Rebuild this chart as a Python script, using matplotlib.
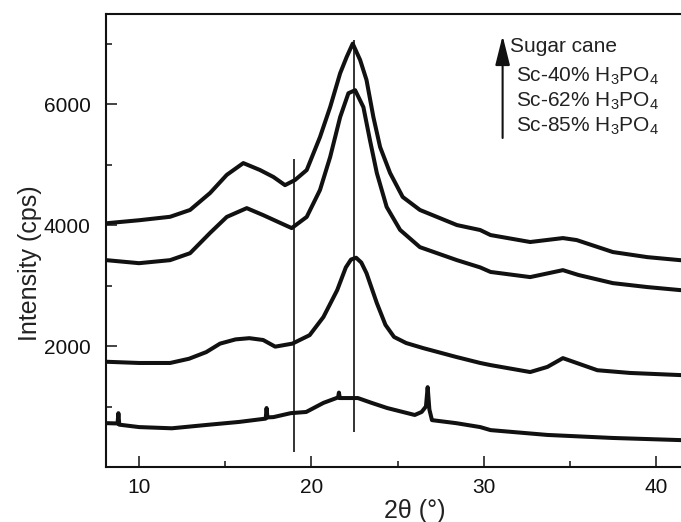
import matplotlib
matplotlib.use("Agg")
import matplotlib.pyplot as plt
from matplotlib.ticker import MultipleLocator, FixedLocator

plt.rcParams['font.family'] = ['Liberation Sans', 'DejaVu Sans']
plt.rcParams['mathtext.fontset'] = 'custom'
plt.rcParams['mathtext.rm'] = 'Liberation Sans'
plt.rcParams['mathtext.it'] = 'Liberation Sans:italic'

# ---- data ----
x_sugar = [8.1, 10.0, 11.8, 12.96, 14.12, 15.09, 16.05, 17.02, 17.8, 18.47, 19.05, 19.73,
           20.5, 21.09, 21.67, 22.05, 22.4, 22.83, 23.2, 23.6, 23.99, 24.57, 25.3, 26.3,
           28.45, 29.8, 30.4, 32.7, 34.6, 35.4, 37.5, 39.5, 41.4, 43.9]
y_sugar = [4030, 4080, 4137, 4250, 4530, 4830, 5025, 4910, 4795, 4660, 4745, 4910,
           5455, 5950, 6510, 6780, 7000, 6730, 6400, 5785, 5290, 4860, 4465, 4250,
           4000, 3918, 3835, 3720, 3785, 3752, 3554, 3470, 3420, 3380]

x_sc40 = [8.1, 10.0, 11.8, 12.96, 14.12, 15.09, 16.25, 17.2, 18.2, 18.86, 19.73, 20.5,
          21.09, 21.67, 22.15, 22.54, 23.02, 23.4, 23.8, 24.37, 25.15, 26.3, 28.45, 29.8,
          30.4, 32.7, 34.6, 35.5, 37.5, 39.5, 41.4, 43.9]
y_sc40 = [3420, 3370, 3420, 3535, 3870, 4135, 4280, 4165, 4035, 3950, 4135, 4580,
          5125, 5785, 6180, 6230, 5950, 5405, 4860, 4300, 3920, 3635, 3420, 3300,
          3225, 3140, 3255, 3175, 3040, 2975, 2925, 2900]

x_sc62 = [8.1, 10.0, 11.8, 12.9, 13.9, 14.7, 15.6, 16.4, 17.2, 17.9, 18.9, 19.9, 20.7,
          21.5, 22.0, 22.3, 22.6, 22.9, 23.2, 23.8, 24.3, 24.8, 25.5, 26.5, 28.4, 29.8,
          30.4, 32.7, 33.7, 34.6, 36.6, 38.5, 41.4, 43.9]
y_sc62 = [1740, 1720, 1720, 1790, 1900, 2040, 2110, 2130, 2100, 1990, 2040, 2180, 2480,
          2925, 3300, 3430, 3460, 3380, 3205, 2710, 2350, 2150, 2050, 1965, 1820, 1720,
          1685, 1570, 1655, 1800, 1600, 1555, 1520, 1500]

x_sc85 = [8.1, 8.75, 8.8, 8.85, 10.0, 11.9, 13.9, 15.8, 17.35, 17.4, 17.45, 17.8, 18.8, 19.7,
          20.7, 21.55, 21.6, 21.65, 22.7, 23.5, 24.4, 26.0, 26.4, 26.65, 26.75, 26.85, 27.0,
          28.4, 29.8, 30.4, 33.7, 37.5, 41.4, 43.9]
y_sc85 = [725, 720, 890, 700, 660, 640, 695, 745, 800, 975, 820, 825, 890, 910,
          1060, 1150, 1230, 1140, 1140, 1060, 975, 860, 910, 1000, 1320, 950, 775,
          725, 660, 610, 530, 480, 445, 430]

vline_x = [19.0, 22.45]
vline_ymin = [253, 583]
vline_ymax = [5090, 7060]

legend_labels = ["Sugar cane", "Sc-40% H$_3$PO$_4$", "Sc-62% H$_3$PO$_4$", "Sc-85% H$_3$PO$_4$"]
xticks = [10, 20, 30, 40]
yticks = [2000, 4000, 6000]

# ---- figure ----
W, H = 681, 522
fig = plt.figure(figsize=(W / 100, H / 100), dpi=100)
left_px, right_px, top_px, bottom_px = 106, 724, 14, 467
ax = fig.add_axes([left_px / W, 1 - bottom_px / H,
                   (right_px - left_px) / W, (bottom_px - top_px) / H])

col = '#111111'
for xs, ys in [(x_sugar, y_sugar), (x_sc40, y_sc40), (x_sc62, y_sc62), (x_sc85, y_sc85)]:
    ax.plot(xs, ys, color=col, lw=2.9, solid_joinstyle='round')

ax.vlines(vline_x, vline_ymin, vline_ymax, color=col, lw=1.2)

ax.set_xlim(8.08, 43.95)
ax.set_ylim(0, 7490)

ax.xaxis.set_major_locator(FixedLocator(xticks))
ax.xaxis.set_minor_locator(MultipleLocator(5))
ax.yaxis.set_major_locator(FixedLocator(yticks))
ax.yaxis.set_minor_locator(FixedLocator([1000, 3000, 5000, 7000]))
ax.tick_params(which='both', direction='in', width=1.1, colors=col, labelsize=15)
ax.tick_params(which='major', length=8, pad=8)
ax.tick_params(which='minor', length=4.5)
ax.tick_params(axis='y', which='major', pad=11)
ax.spines['right'].set_visible(False)
for s in ['left', 'bottom', 'top']:
    ax.spines[s].set_linewidth(1.5)
    ax.spines[s].set_color(col)

# axis labels placed at pixel positions
fig.text(30 / W, 1 - 263 / H, "Intensity (cps)", rotation=90, ha='center', va='center',
         fontsize=18, color='#222222')
fig.text(415 / W, 1 - 511 / H, "2θ (°)", ha='center', va='center', fontsize=18,
         color='#222222')

# legend-like annotation
ax.annotate("", xy=(31.1, 7130), xytext=(31.1, 5440),
            arrowprops=dict(arrowstyle='-|>,head_length=1.2,head_width=0.3',
                            mutation_scale=15, color=col, lw=1.5, shrinkA=0, shrinkB=0))
ax.text(31.53, 6865, legend_labels[0], ha='left', va='baseline', fontsize=15, color='#222222')
for lab, yb in zip(legend_labels[1:], [6369, 5956, 5543]):
    ax.text(31.88, yb, lab, ha='left', va='baseline', fontsize=15, color='#222222')

fig.savefig("out.png", dpi=100)
